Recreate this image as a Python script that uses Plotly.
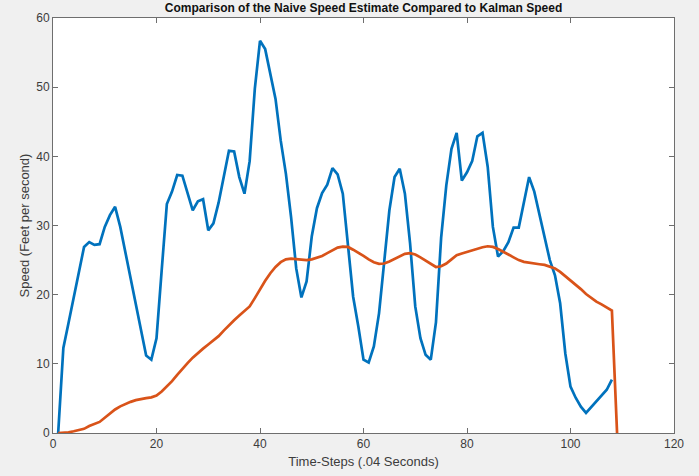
import plotly.graph_objects as go

naive_speed = [0, 12.3, 15.9, 19.6, 23.3, 26.9, 27.6, 27.2, 27.3, 29.8,
               31.5, 32.7, 29.8, 26.1, 22.4, 18.6, 14.9, 11.2, 10.6, 13.7,
               23.5, 33.1, 34.9, 37.3, 37.2, 34.6, 32.2, 33.5, 33.8, 29.3,
               30.3, 33.3, 36.9, 40.8, 40.7, 37.0, 34.6, 39.3, 49.8, 56.7,
               55.5, 52.0, 48.3, 42.3, 37.5, 31.25, 23.8, 19.6, 21.9, 28.4,
               32.5, 34.7, 35.9, 38.3, 37.4, 34.6, 27.4, 19.7, 15.4, 10.6,
               10.2, 12.5, 17.3, 25.0, 32.2, 37.0, 38.2, 34.6, 27.4, 18.3,
               13.7, 11.3, 10.6, 16.0, 28.2, 35.8, 41.1, 43.4, 36.5, 37.7,
               39.3, 42.9, 43.4, 38.5, 29.8, 25.5, 26.3, 27.6, 29.7, 29.7,
               33.4, 37.0, 34.9, 31.7, 28.4, 25.0, 22.8, 18.75, 11.5, 6.7,
               5.1, 3.8, 2.9, 3.75, 4.7, 5.4, 6.25, 7.7]
kalman_speed = [0, 0, 0.1, 0.25, 0.4, 0.6, 1.0, 1.3, 1.6, 2.2,
                2.8, 3.4, 3.85, 4.2, 4.5, 4.75, 4.95, 5.05, 5.15, 5.4,
                6.0, 6.7, 7.5, 8.4, 9.3, 10.1, 10.9, 11.6, 12.2, 12.8,
                13.4, 14.0, 14.8, 15.6, 16.3, 17.0, 17.6, 18.3, 19.5, 20.8,
                22.0, 23.1, 24.0, 24.7, 25.1, 25.2, 25.15, 25.05, 25.0, 25.1,
                25.3, 25.6, 26.0, 26.4, 26.8, 26.95, 26.9, 26.5, 26.1, 25.6,
                25.1, 24.7, 24.45, 24.5, 24.8, 25.2, 25.6, 25.9, 26.0, 25.8,
                25.4, 24.9, 24.4, 24.0, 24.1, 24.5, 25.1, 25.7, 25.95, 26.2,
                26.4, 26.65, 26.85, 27.0, 26.9, 26.6, 26.25, 25.8, 25.4, 25.0,
                24.75, 24.6, 24.5, 24.4, 24.3, 24.1, 23.8, 23.3, 22.7, 22.0,
                21.4, 20.8, 20.1, 19.5, 19.0, 18.6, 18.2, 17.7, 0]
naive_steps = list(range(1, len(naive_speed) + 1))
kalman_steps = list(range(1, len(kalman_speed) + 1))
x_ticks = [0, 20, 40, 60, 80, 100, 120]
y_ticks = [0, 10, 20, 30, 40, 50, 60]

font_family = "Liberation Sans, Arial, Helvetica, sans-serif"
axis_color = "#6e6e6e"
text_color = "#3c3c3c"

fig = go.Figure()
fig.add_trace(go.Scatter(x=naive_steps, y=naive_speed, mode="lines",
                         line=dict(color="#0072BD", width=2.7), name="Naive"))
fig.add_trace(go.Scatter(x=kalman_steps, y=kalman_speed, mode="lines",
                         line=dict(color="#D95319", width=2.7), name="Kalman"))

axis_common = dict(showgrid=False, zeroline=False, showline=True, linecolor=axis_color,
                   linewidth=1, mirror="ticks", ticks="inside", ticklen=5,
                   tickcolor=axis_color, tickwidth=1, automargin=False,
                   tickfont=dict(family=font_family, size=12, color=text_color))

fig.update_layout(
    width=699, height=476,
    margin=dict(l=53, r=25, t=18, b=43),
    paper_bgcolor="#F0F0F0", plot_bgcolor="white",
    showlegend=False,
    title=dict(text="<b>Comparison of the Naive Speed Estimate Compared to Kalman Speed</b>",
               x=0.5, xref="paper", y=0.983, yref="container", yanchor="middle",
               font=dict(family=font_family, size=12, color="#111111")),
    xaxis=dict(range=[0, 120], tickvals=x_ticks,
               title=dict(text="Time-Steps (.04 Seconds)", standoff=6,
                          font=dict(family=font_family, size=13, color=text_color)),
               **axis_common),
    yaxis=dict(range=[0, 60], tickvals=y_ticks,
               title=dict(text="Speed (Feet per second)", standoff=3,
                          font=dict(family=font_family, size=13, color=text_color)),
               **axis_common),
)

fig.write_html("out.html", config={"displayModeBar": False},
               post_script="document.body.style.margin='0';document.body.style.background='#F0F0F0';")
